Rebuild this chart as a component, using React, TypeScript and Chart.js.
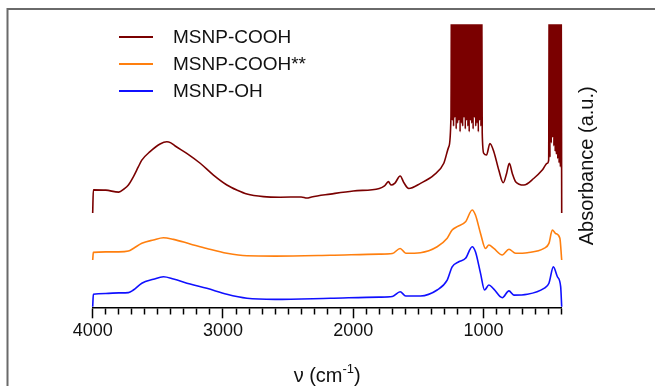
import React, { useEffect, useRef } from "react";
import { Chart, registerables } from "chart.js";

Chart.register(...registerables);

const FONT = "'Liberation Sans', Arial, Helvetica, sans-serif";

const seriesLabels = ["MSNP-COOH", "MSNP-COOH**", "MSNP-OH"];
const seriesColors = ["#7a0000", "#ff7f0e", "#1010ff"];
const xTickLabels = [4000, 3000, 2000, 1000];
const xTitleMain = "ν (cm";
const xTitleSup = "-1";
const xTitleEnd = ")";
const yTitle = "Absorbance (a.u.)";

// MSNP-COOH (brown) – wavenumbers and absorbance (arbitrary units)
const coohWn = [
  4000, 3995, 3900, 3800, 3760, 3726, 3688, 3650, 3623, 3560, 3483, 3431, 3400, 3367, 3278, 3175,
  3073, 2970, 2893, 2816, 2689, 2560, 2400, 2355, 2320, 2176, 2000, 1800, 1760, 1730, 1710, 1680,
  1640, 1610, 1574, 1484, 1382, 1305, 1267, 1250,
  1245, 1240, 1235, 1230, 1225, 1220, 1215, 1210, 1205, 1200, 1195, 1190, 1185, 1180, 1175, 1170,
  1165, 1160, 1155, 1150, 1145, 1140, 1135, 1130, 1125, 1120, 1115, 1110, 1105, 1100, 1095, 1090,
  1085, 1080, 1075, 1070, 1065, 1060, 1055, 1050, 1045, 1040, 1035, 1030, 1025, 1020, 1015,
  1010, 998, 977, 951, 921, 883, 849, 823, 802, 779, 754, 690, 613, 549, 510, 500,
  495, 490, 485, 480, 475, 470, 465, 460, 455, 450, 445, 440, 435, 430, 425, 420, 415, 410, 405,
  400,
];
const coohAbs = [
  33.3, 41.5, 41.4, 40.7, 41.8, 43.2, 46.1, 49.6, 52.0, 55.0, 57.7, 58.5, 58.1, 57.0, 54.4, 50.9,
  46.7, 43.2, 41.4, 40.0, 39.1, 38.9, 39.0, 38.6, 39.0, 40.0, 41.1, 42.0, 42.9, 44.4, 43.2, 43.9,
  46.4, 43.9, 42.0, 43.8, 46.7, 50.9, 56.7, 67.3,
  130, 66, 130, 64, 130, 67, 130, 63, 130, 65, 130, 66, 130, 62, 130, 65,
  130, 64, 130, 67, 130, 63, 130, 66, 130, 64, 130, 62, 130, 66, 130, 65,
  130, 63, 130, 67, 130, 64, 130, 65, 130, 62, 130, 66, 130, 64, 130,
  61.6, 54.4, 53.8, 57.9, 55.0, 48.5, 44.0, 47.3, 50.9, 47.3, 44.4, 43.2, 45.6, 48.5, 50.9, 52.0,
  130, 53, 130, 58, 130, 60, 130, 57, 130, 55, 130, 54, 130, 52.5, 130, 51, 130, 49.6, 130,
  33.3,
];

// MSNP-COOH** (orange)
const coohStarWn = [
  4000, 3995, 3900, 3800, 3726, 3688, 3623, 3534, 3457, 3380, 3252, 3124, 2970, 2816, 2600, 2176,
  1800, 1700, 1640, 1597, 1484, 1356, 1279, 1241, 1202, 1138, 1087, 1062, 1023, 985, 959, 921,
  856, 805, 754, 664, 536, 498, 472, 447, 414, 400,
];
const coohStarAbs = [
  16.7, 19.4, 19.6, 19.6, 19.9, 20.8, 22.6, 23.8, 24.6, 24.0, 22.4, 20.8, 19.1, 18.2, 18.1, 18.4,
  18.8, 19.0, 20.8, 19.1, 19.3, 21.4, 24.4, 27.3, 28.5, 30.2, 34.4, 32.6, 26.1, 20.8, 22.0, 20.8,
  18.5, 20.5, 19.1, 19.3, 20.8, 22.6, 27.3, 26.1, 24.4, 16.7,
];

// MSNP-OH (blue)
const ohWn = [
  4000, 3995, 3900, 3800, 3726, 3688, 3623, 3534, 3457, 3380, 3252, 3124, 2970, 2816, 2600, 2176,
  1800, 1700, 1640, 1597, 1484, 1356, 1279, 1241, 1190, 1138, 1087, 1062, 1023, 992, 959, 921,
  856, 805, 767, 664, 536, 498, 464, 433, 408, 400,
];
const ohAbs = [
  0.2, 4.6, 4.9, 5.1, 5.2, 6.1, 8.5, 9.9, 10.8, 10.0, 8.2, 6.7, 4.6, 3.2, 2.8, 3.2,
  3.6, 3.8, 5.5, 4.0, 4.0, 6.1, 9.6, 14.3, 16.1, 17.3, 21.4, 19.6, 12.0, 6.1, 7.9, 6.4,
  3.4, 5.8, 4.3, 4.6, 6.7, 8.5, 14.3, 10.8, 7.3, 0.2,
];

const toPoints = (wn: number[], abs: number[]) => wn.map((x, i) => ({ x, y: abs[i] }));

const decorPlugin = {
  id: "decor",
  afterDraw(chart: any) {
    const ctx = chart.ctx as CanvasRenderingContext2D;
    const area = chart.chartArea;
    ctx.save();
    // outer frame (top and left edges visible)
    ctx.strokeStyle = "#6a6a6a";
    ctx.lineWidth = 2;
    ctx.beginPath();
    ctx.moveTo(7.5, 386);
    ctx.lineTo(7.5, 9);
    ctx.lineTo(655, 9);
    ctx.stroke();

    // legend
    const ds = chart.data.datasets;
    ctx.font = `19px ${FONT}`;
    ctx.textBaseline = "middle";
    ctx.textAlign = "left";
    ds.forEach((d: any, i: number) => {
      const y = 37 + i * 27;
      ctx.strokeStyle = d.borderColor;
      ctx.lineWidth = 2;
      ctx.beginPath();
      ctx.moveTo(119, y);
      ctx.lineTo(153, y);
      ctx.stroke();
      ctx.fillStyle = "#111";
      ctx.fillText(d.label, 173, y + 1);
    });

    // x-axis title with superscript
    const cx = (area.left + area.right) / 2;
    const base = 382;
    ctx.textBaseline = "alphabetic";
    ctx.font = `20px ${FONT}`;
    const w1 = ctx.measureText(xTitleMain).width;
    const w3 = ctx.measureText(xTitleEnd).width;
    ctx.font = `13px ${FONT}`;
    const w2 = ctx.measureText(xTitleSup).width;
    let x = cx - (w1 + w2 + w3) / 2;
    ctx.fillStyle = "#111";
    ctx.font = `20px ${FONT}`;
    ctx.fillText(xTitleMain, x, base);
    x += w1;
    ctx.font = `13px ${FONT}`;
    ctx.fillText(xTitleSup, x, base - 9);
    x += w2;
    ctx.font = `20px ${FONT}`;
    ctx.fillText(xTitleEnd, x, base);

    // y-axis title (right side, reading bottom to top)
    ctx.translate(587, (area.top + area.bottom) / 2);
    ctx.rotate(-Math.PI / 2);
    ctx.textAlign = "center";
    ctx.textBaseline = "middle";
    ctx.font = `20px ${FONT}`;
    ctx.fillText(yTitle, 0, 0);
    ctx.restore();
  },
};

export default function App() {
  const ref = useRef<HTMLCanvasElement | null>(null);

  useEffect(() => {
    if (!ref.current) return;
    const mk = (i: number, pts: { x: number; y: number }[]) => ({
      label: seriesLabels[i],
      data: pts,
      borderColor: seriesColors[i],
      backgroundColor: seriesColors[i],
      borderWidth: 1.6,
      pointRadius: 0,
      pointHoverRadius: 0,
      cubicInterpolationMode: "monotone" as const,
      fill: false,
      clip: { left: 2, right: 2, top: 0, bottom: 2 },
    });
    const chart = new Chart(ref.current, {
      type: "line",
      data: {
        datasets: [
          mk(0, toPoints(coohWn, coohAbs)),
          mk(1, toPoints(coohStarWn, coohStarAbs)),
          mk(2, toPoints(ohWn, ohAbs)),
        ],
      },
      options: {
        responsive: false,
        animation: false,
        devicePixelRatio: 1,
        layout: { padding: { left: 92.7, right: 93.3, top: 24.3, bottom: 0 } },
        plugins: { legend: { display: false }, tooltip: { enabled: false } },
        scales: {
          x: {
            type: "linear",
            min: 400,
            max: 4000,
            reverse: true,
            border: { display: true, color: "#000", width: 1.5 },
            grid: {
              drawOnChartArea: false,
              drawTicks: true,
              tickLength: 11,
              tickColor: "#000",
              tickWidth: 1.5,
              tickBorderDash: (c: any) =>
                c.tick && xTickLabels.includes(c.tick.value) ? [] : [6, 30],
            },
            ticks: {
              stepSize: 100,
              autoSkip: false,
              maxRotation: 0,
              minRotation: 0,
              padding: 2,
              color: "#111",
              font: { family: FONT, size: 18 },
              callback: (v: any) => (xTickLabels.includes(Number(v)) ? String(v) : ""),
            },
            afterFit: (scale: any) => {
              scale.height = 78.7;
            },
          },
          y: { display: false, min: 0, max: 100 },
        },
      },
      plugins: [decorPlugin],
    });
    return () => chart.destroy();
  }, []);

  return (
    <div style={{ position: "absolute", left: 0, top: 0, width: 655, height: 386, overflow: "hidden", background: "#fff" }}>
      <canvas ref={ref} width={655} height={386} style={{ position: "absolute", left: 0, top: 0, width: 655, height: 386 }} />
    </div>
  );
}
